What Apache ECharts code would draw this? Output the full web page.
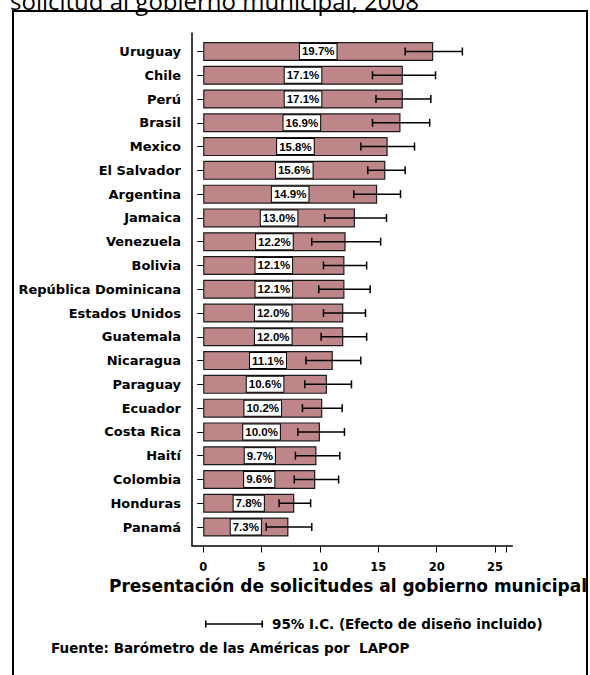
<!DOCTYPE html>
<html>
<head>
<meta charset="utf-8">
<script src="https://cdn.jsdelivr.net/npm/echarts@6/dist/echarts.min.js"></script>
<style>
html,body{margin:0;padding:0;background:#fff;}
#chart{width:590px;height:675px;}
</style>
</head>
<body>
<div id="chart"></div>
<script>
// ---- data (top to bottom) ----
var countries = ['Uruguay','Chile','Perú','Brasil','Mexico','El Salvador','Argentina','Jamaica','Venezuela','Bolivia','República Dominicana','Estados Unidos','Guatemala','Nicaragua','Paraguay','Ecuador','Costa Rica','Haití','Colombia','Honduras','Panamá'];
var values = [19.7,17.1,17.1,16.9,15.8,15.6,14.9,13.0,12.2,12.1,12.1,12.0,12.0,11.1,10.6,10.2,10.0,9.7,9.6,7.8,7.3];
var ciLow  = [17.3,14.5,14.8,14.5,13.5,14.1,12.9,10.4,9.3,10.3,9.9,10.3,10.1,8.8,8.7,8.5,8.1,7.9,7.8,6.5,5.4];
var ciHigh = [22.2,19.9,19.5,19.4,18.1,17.3,16.9,15.7,15.2,14.0,14.3,13.9,14.0,13.5,12.7,11.9,12.1,11.7,11.6,9.2,9.3];
var xTicks = [0,5,10,15,20,25];

var titleText = 'solicitud al gobierno municipal, 2008';
var axisTitle = 'Presentación de solicitudes al gobierno municipal';
var ciLabel = '95% I.C. (Efecto de diseño incluido)';
var sourceText = 'Fuente: Barómetro de las Américas por  LAPOP';

var errData = countries.map(function(c, i){ return [ciLow[i], ciHigh[i], i]; });

var FONT = 'DejaVu Sans';
var chart = echarts.init(document.getElementById('chart'), null, {renderer:'svg'});

chart.setOption({
  animation: false,
  backgroundColor: '#fff',
  title: [
    {text: titleText, left: 10, top: -12, padding: 0,
     textStyle: {fontFamily: 'Open Sans', fontWeight: 'normal', fontSize: 24, lineHeight: 24, color: '#000'}},
    {text: sourceText, left: 51, top: 640, padding: 0,
     textStyle: {fontFamily: FONT, fontWeight: 'bold', fontSize: 13.5, lineHeight: 15, color: '#000'}}
  ],
  graphic: [
    {type: 'rect', shape: {x: 13, y: 11, width: 574, height: 700}, silent: true,
     style: {fill: 'none', stroke: '#000', lineWidth: 2}}
  ],
  legend: {
    left: 205, top: 617, padding: 0,
    data: [{name: ciLabel, icon: 'path://M0,0h1.5v7h-1.5z M0,2.75h58v1.5h-58z M56.5,0h1.5v7h-1.5z'}],
    itemWidth: 58, itemHeight: 7,
    itemStyle: {color: '#000', borderWidth: 0},
    textStyle: {fontFamily: FONT, fontWeight: 'bold', fontSize: 13.5, color: '#000', padding: [0,0,0,4]}
  },
  grid: [
    {left: 203.2, right: 77.7, top: 39.6, bottom: 136.1},
    {left: 192, right: 77.7, top: 33, bottom: 129.5}
  ],
  xAxis: [
    {gridIndex: 0, type: 'value', min: 0, max: 26, interval: 5, offset: 6.6,
     axisLine: {show: false},
     axisTick: {show: true, length: 7, lineStyle: {color: '#000', width: 1}},
     axisLabel: {margin: 15, color: '#000', fontFamily: FONT, fontWeight: 'bold', fontSize: 11.5,
                 formatter: function(v){ return xTicks.indexOf(v) >= 0 ? String(v) : ''; }},
     splitLine: {show: false},
     name: axisTitle, nameLocation: 'middle', nameGap: 27,
     nameTextStyle: {fontFamily: FONT, fontWeight: 'bold', fontSize: 17, color: '#000', padding: [0,14,0,0]}},
    {gridIndex: 1, type: 'value', min: 0, max: 1,
     axisLine: {show: true, lineStyle: {color: '#000', width: 1.5}},
     axisTick: {show: false}, axisLabel: {show: false}, splitLine: {show: false}}
  ],
  yAxis: [
    {gridIndex: 0, type: 'category', data: countries, inverse: true, offset: 11.2,
     axisLine: {show: false},
     axisTick: {show: true, alignWithLabel: true, length: 6, lineStyle: {color: '#000', width: 1}},
     axisLabel: {margin: 11, color: '#000', fontFamily: FONT, fontWeight: 'bold', fontSize: 13}},
    {gridIndex: 1, type: 'value', min: 0, max: 1,
     axisLine: {show: true, lineStyle: {color: '#000', width: 1.5}},
     axisTick: {show: false}, axisLabel: {show: false}, splitLine: {show: false}}
  ],
  series: [
    {type: 'bar', name: 'Porcentaje', xAxisIndex: 0, yAxisIndex: 0, data: values, barWidth: 19,
     itemStyle: {color: '#BE8689', borderColor: '#1a1a1a', borderWidth: 1.2},
     label: {show: true, position: 'inside', color: '#000',
             fontFamily: 'Liberation Sans', fontWeight: 'bold', fontSize: 11.5,
             backgroundColor: '#fff', borderColor: '#000', borderWidth: 1, padding: [2,2,1,2],
             formatter: function(p){ return p.value.toFixed(1) + '%'; }}},
    {type: 'custom', name: ciLabel, xAxisIndex: 0, yAxisIndex: 0, data: errData,
     encode: {x: [0,1], y: 2}, z: 5,
     itemStyle: {color: '#000'},
     renderItem: function(params, api){
       var idx = api.value(2);
       var a = api.coord([api.value(0), idx]);
       var b = api.coord([api.value(1), idx]);
       var h = 4;
       var st = {stroke: '#000', lineWidth: 1.5, fill: 'none'};
       return {type: 'group', children: [
         {type: 'line', shape: {x1: a[0], y1: a[1], x2: b[0], y2: b[1]}, style: st},
         {type: 'line', shape: {x1: a[0], y1: a[1]-h, x2: a[0], y2: a[1]+h}, style: st},
         {type: 'line', shape: {x1: b[0], y1: b[1]-h, x2: b[0], y2: b[1]+h}, style: st}
       ]};
     }}
  ]
});
</script>
</body>
</html>
